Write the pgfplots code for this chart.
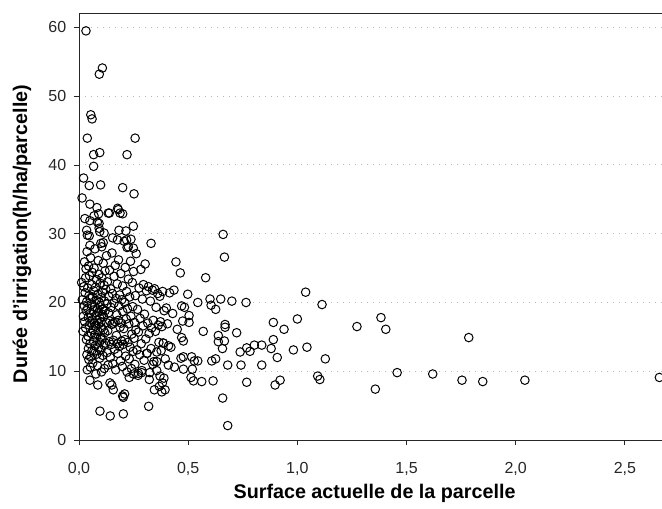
\documentclass[border=0pt]{standalone}
\usepackage{pgfplots}
\pgfplotsset{compat=1.18}
\usepackage{fontspec}
\setmainfont{Liberation Sans}

\pgfplotstableread{
x y
0.032 59.5
0.107 54.1
0.093 53.2
0.054 47.3
0.060 46.7
0.038 43.9
0.257 43.9
0.067 41.5
0.095 41.8
0.220 41.5
0.067 39.8
0.021 38.1
0.047 37.0
0.099 37.1
0.200 36.7
0.252 35.8
0.014 35.2
0.050 34.3
0.082 33.8
0.027 32.2
0.050 31.9
0.090 32.9
0.069 32.6
0.134 33.0
0.139 33.0
0.180 33.5
0.177 33.7
0.188 33.0
0.200 32.9
0.084 31.7
0.092 31.5
0.092 30.8
0.095 30.3
0.249 31.1
0.035 30.5
0.038 29.8
0.047 29.7
0.115 30.1
0.183 30.5
0.215 30.4
0.154 29.4
0.176 29.1
0.218 29.1
0.238 29.2
0.330 28.6
0.660 29.9
0.050 28.3
0.111 28.7
0.104 28.1
0.220 28.0
0.249 27.9
0.226 28.1
}\toppts

\pgfplotstableread{
x y
0.666 26.6
0.580 23.6
0.444 25.9
0.464 24.3
0.435 21.8
0.498 21.2
0.544 20.0
0.600 20.5
0.605 19.6
0.626 19.0
0.649 20.5
0.700 20.2
0.765 20.0
0.470 19.5
0.483 19.3
0.429 18.4
0.504 18.1
0.504 17.1
0.475 17.3
0.450 16.1
0.569 15.8
0.669 16.8
0.669 16.4
0.638 15.2
0.666 14.4
0.638 14.3
0.657 13.3
0.722 15.6
0.890 17.1
0.939 16.1
1.000 17.6
0.890 14.6
0.880 13.3
0.908 12.0
0.982 13.1
0.738 12.8
0.768 13.4
0.783 12.9
0.803 13.8
0.837 13.8
0.516 12.1
0.528 11.5
0.544 11.5
0.608 11.5
0.626 11.8
0.681 10.9
0.742 10.9
0.837 10.9
0.519 10.3
0.513 9.1
0.524 8.6
0.562 8.5
0.614 8.6
0.768 8.4
0.898 8.0
0.921 8.7
0.658 6.1
0.681 2.1
1.038 21.5
1.113 19.7
1.273 16.5
1.383 17.8
1.405 16.1
1.044 13.5
1.128 11.8
1.093 9.3
1.103 8.8
1.357 7.4
1.457 9.8
1.620 9.6
1.754 8.7
1.785 14.9
1.849 8.5
2.042 8.7
2.658 9.1
0.470 14.9
0.478 14.4
0.421 13.5
0.386 14.1
0.467 11.9
0.478 12.1
0.409 10.9
0.437 10.6
0.478 10.3
0.319 4.9
0.096 4.2
0.143 3.5
0.203 3.8
0.209 6.7
0.200 6.4
0.203 6.2
0.142 8.3
0.150 8.0
0.050 8.7
0.086 8.0
0.157 7.3
0.230 9.1
0.249 9.6
0.272 9.7
0.287 9.8
0.322 8.8
0.345 7.3
0.368 7.8
0.379 7.0
0.394 7.3
0.382 8.3
0.389 9.0
0.356 10.1
0.338 11.0
0.371 9.3
0.310 12.6
0.356 11.4
}\midpts

\pgfplotstableread{
x y
0.012 22.9
0.015 20.4
0.018 15.8
0.020 18.0
0.022 22.3
0.024 19.5
0.025 25.9
0.026 17.2
0.028 21.4
0.030 23.6
0.030 16.3
0.032 24.9
0.033 18.8
0.034 14.6
0.035 20.1
0.036 12.4
0.037 27.4
0.038 10.2
0.040 19.2
0.040 22.1
0.041 15.1
0.042 17.8
0.043 13.3
0.044 25.3
0.045 11.7
0.046 21.0
0.047 16.7
0.048 23.9
0.050 18.4
0.050 14.0
0.051 20.6
0.052 10.6
0.053 26.5
0.054 12.1
0.055 17.0
0.056 19.7
0.057 15.5
0.058 22.6
0.059 13.0
0.060 24.4
0.061 17.5
0.062 20.8
0.063 11.2
0.064 16.1
0.065 18.9
0.066 14.4
0.067 21.7
0.068 12.9
0.069 25.0
0.070 17.0
0.071 19.4
0.072 15.3
0.073 27.8
0.074 13.7
0.075 22.2
0.076 16.6
0.077 9.6
0.078 18.1
0.079 20.3
0.080 14.9
0.081 23.3
0.082 12.5
0.083 17.4
0.084 19.1
0.085 10.8
0.086 21.2
0.087 15.8
0.088 26.1
0.089 13.4
0.090 18.6
0.091 16.9
0.092 24.1
0.093 20.0
0.094 14.2
0.095 11.9
0.096 17.7
0.097 22.8
0.098 19.6
0.099 15.0
0.100 28.6
0.100 13.1
0.101 17.2
0.102 20.7
0.103 9.9
0.104 16.3
0.105 23.6
0.106 18.3
0.107 14.7
0.108 21.5
0.109 12.3
0.110 19.0
0.111 25.7
0.112 16.0
0.113 17.9
0.114 13.8
0.115 22.5
0.116 10.4
0.117 20.2
0.118 15.6
0.119 24.6
0.120 18.8
0.121 14.1
0.123 21.9
0.125 17.1
0.126 26.8
0.128 12.7
0.129 19.8
0.130 23.0
0.132 15.9
0.133 10.9
0.135 18.5
0.136 20.9
0.138 14.3
0.140 24.7
0.141 17.3
0.143 12.0
0.145 22.0
0.146 19.3
0.148 13.9
0.150 16.8
0.151 27.2
0.153 21.3
0.155 11.1
0.156 17.0
0.158 14.5
0.160 19.9
0.161 23.8
0.163 13.2
0.165 17.2
0.166 25.4
0.168 10.2
0.170 20.6
0.171 15.2
0.173 18.2
0.175 22.7
0.176 14.0
0.178 12.6
0.180 17.4
0.181 26.2
0.183 19.5
0.185 13.6
0.186 21.1
0.188 16.4
0.190 11.5
0.191 24.2
0.193 17.0
0.195 14.4
0.196 20.4
0.198 10.7
0.200 18.7
0.200 22.4
0.202 13.9
0.205 16.2
0.207 28.9
0.209 20.0
0.210 14.6
0.212 25.1
0.214 12.2
0.216 17.6
0.218 21.6
0.220 9.9
0.222 19.1
0.224 14.2
0.226 23.4
0.228 16.9
0.230 11.8
0.232 20.8
0.234 13.5
0.236 26.0
0.238 18.0
0.240 10.4
0.242 15.4
0.244 22.9
0.246 19.4
0.248 12.9
0.250 24.5
0.252 14.8
0.254 17.1
0.256 11.0
0.258 21.0
0.260 16.0
0.262 27.1
0.265 13.1
0.268 19.0
0.270 9.4
0.272 15.7
0.275 22.1
0.278 12.4
0.280 17.7
0.283 24.8
0.285 14.0
0.288 10.1
0.290 20.5
0.293 16.6
0.295 22.6
0.298 11.6
0.300 18.3
0.303 25.6
0.306 14.7
0.309 21.7
0.312 12.6
0.315 17.0
0.318 22.3
0.321 15.5
0.324 9.8
0.327 20.2
0.330 13.3
0.333 16.3
0.336 21.8
0.340 17.4
0.343 11.4
0.346 22.0
0.350 15.8
0.353 19.3
0.356 12.8
0.360 21.3
0.363 16.7
0.366 14.2
0.370 20.9
0.373 17.2
0.376 13.0
0.380 16.5
0.383 21.6
0.386 14.1
0.390 18.8
0.395 11.8
0.400 19.2
0.405 16.9
0.410 13.7
0.415 21.4
}\densepts

\begin{document}
\begin{tikzpicture}
\begin{axis}[
    name=ax,
    scale only axis,
    width=437.25pt, height=320.25pt,
    xmin=0, xmax=2.67, ymin=0, ymax=62.1,
    axis x line=box, axis y line=left,
    axis line style={-, line width=0.6pt, black!85},
    xtick={0,0.5,1,1.5,2,2.5},
    ytick={0,10,20,30,40,50,60},
    xtick pos=bottom, ytick pos=left,
    tick align=outside,
    major tick length=3.75pt,
    tick style={line width=0.6pt, black!85},
    ymajorgrids,
    grid style={line width=0.7pt, gray!55, dash pattern=on 0.75pt off 3.75pt},
    x tick label style={yshift=-9.5pt, /pgf/number format/.cd, fixed, fixed zerofill, precision=1, use comma},
    y tick label style={xshift=-2.25pt},
    /pgf/number format/assume math mode=true,
    tick label style={font=\fontsize{12pt}{14pt}\selectfont, black!85},
    xlabel={Surface actuelle de la parcelle},
    ylabel={Durée d'irrigation(h/ha/parcelle)},
    every axis x label/.style={at={(axis description cs:0.507,-0.138)}, anchor=base, font=\fontsize{14.8pt}{17pt}\selectfont\bfseries},
    every axis y label/.style={at={(axis description cs:-0.098,0.4824)}, anchor=center, rotate=90, font=\fontsize{14.8pt}{17pt}\selectfont\bfseries},
]
\addplot[only marks, mark=o, mark size=3.2pt, mark options={line width=0.75pt, black}] table {\densepts};
\addplot[only marks, mark=o, mark size=3.2pt, mark options={line width=0.75pt, black}] table {\midpts};
\addplot[only marks, mark=o, mark size=3.2pt, mark options={line width=0.75pt, black}] table {\toppts};
\end{axis}
\pgfresetboundingbox
\path ([xshift=-59.25pt, yshift=-51pt]ax.south west) rectangle ([yshift=9.75pt]ax.north east);
\end{tikzpicture}
\end{document}
